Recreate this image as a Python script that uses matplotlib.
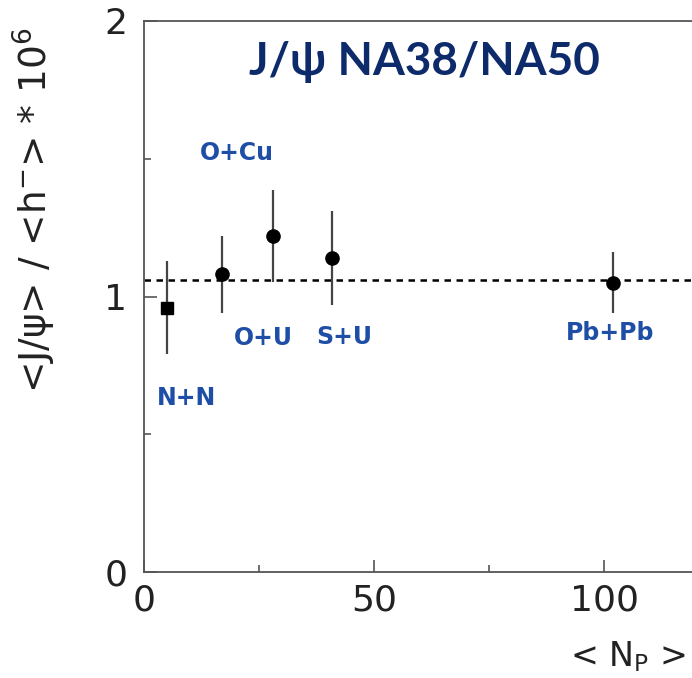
#!/usr/bin/env python3
"""J/psi over h- ratio vs <Np>, NA38/NA50."""

import matplotlib
matplotlib.use("Agg")
import matplotlib.pyplot as plt
from matplotlib.ticker import MultipleLocator

# data
systems = ["N+N", "O+Cu", "O+U", "S+U", "Pb+Pb"]
npart = [4.9, 17.0, 28.0, 40.9, 102.0]
ratio = [0.96, 1.08, 1.22, 1.14, 1.05]
err = [0.17, 0.14, 0.167, 0.17, 0.11]
ref_level = 1.06

# label offsets (pixels) from each point
label_offsets = [(20, -90), (15, 121), (-9, -102), (12, -79), (-3, -50)]

W, H = 692, 678
fig = plt.figure(figsize=(W / 100, H / 100), dpi=100)
ax = fig.add_axes([144 / W, (H - 572) / H, 575 / W, 551 / H])

gray = "#555555"
ax.errorbar(npart[:1], ratio[:1], yerr=err[:1], fmt="s", color="black",
            ecolor="#444444", elinewidth=1.6, markersize=9, capsize=0, zorder=3)
ax.errorbar(npart[1:], ratio[1:], yerr=err[1:], fmt="o", color="black",
            ecolor="#444444", elinewidth=1.6, markersize=9.5, capsize=0, zorder=3)
ax.axhline(ref_level, color="black", lw=1.8, ls=(0, (2.6, 2.2)), zorder=2)

blue = "#1f4ea6"
for name, x, y, off in zip(systems, npart, ratio, label_offsets):
    ax.annotate(name, (x, y), xytext=off, textcoords="offset pixels",
                ha="center", va="center", color=blue, fontsize=17,
                fontweight="bold", family="DejaVu Sans")

ax.set_xlim(0, 125)
ax.set_ylim(0, 2)
ax.xaxis.set_major_locator(MultipleLocator(50))
ax.xaxis.set_minor_locator(MultipleLocator(25))
ax.yaxis.set_major_locator(MultipleLocator(1))
ax.yaxis.set_minor_locator(MultipleLocator(0.5))
ax.tick_params(which="both", direction="in", color=gray, width=1.2,
               labelsize=26, labelcolor="#222222")
ax.tick_params(which="major", length=9)
ax.tick_params(which="minor", length=5)
ax.tick_params(axis="x", pad=8)
ax.tick_params(axis="y", pad=12)
for s in ax.spines.values():
    s.set_color(gray)
    s.set_linewidth(1.3)
ax.spines["right"].set_visible(False)

fig.text(424 / W, 1 - 62 / H, "J/ψ NA38/NA50", ha="center", va="center",
         fontsize=33, fontweight="bold", color="#0d2a6b", family="Lato")
fig.text(34 / W, 1 - 210 / H, "<J/ψ> / <h$^{-}$> * 10$^{6}$",
         rotation=90, ha="center", va="center", fontsize=27, color="#222222")
fig.text(628 / W, 1 - 657 / H, r"< N$_{\mathrm{P}}$ >", ha="center",
         va="center", fontsize=24, color="#222222")

fig.savefig("out.png", dpi=100)
